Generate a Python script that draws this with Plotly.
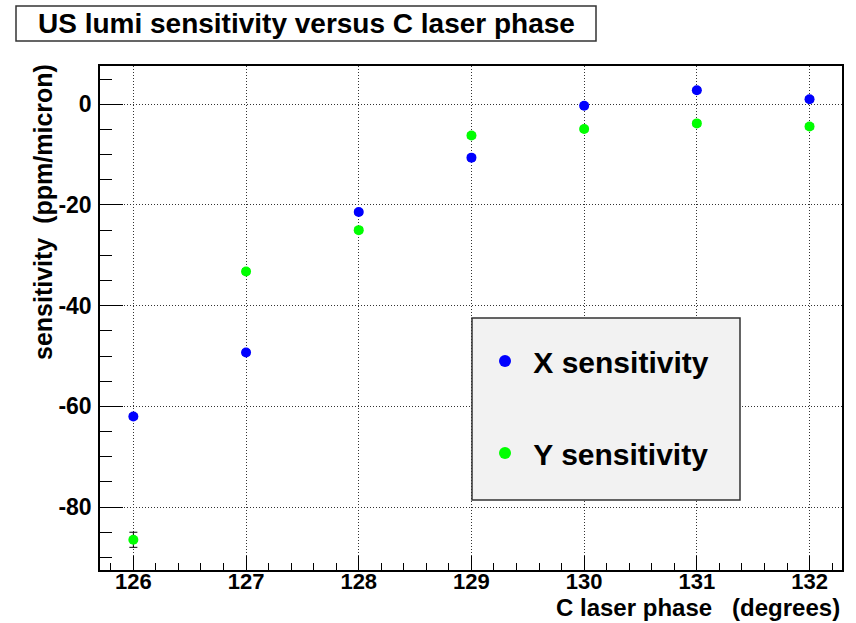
import plotly.graph_objects as go

# Scan points: C laser phase setting (degrees)
phase = [126, 127, 128, 129, 130, 131, 132]

# Luminosity monitor sensitivities (ppm/micron) with their errors
x_sens = [-62.0, -49.3, -21.4, -10.6, -0.3, 2.8, 1.0]
x_err = [0.5, 0.5, 0.5, 0.5, 0.5, 0.5, 0.5]
y_sens = [-86.5, -33.2, -25.0, -6.2, -4.9, -3.8, -4.4]
y_err = [1.5, 0.5, 0.5, 0.5, 0.5, 0.5, 0.5]

series_names = ["X sensitivity", "Y sensitivity"]
title_text = "US lumi sensitivity versus C laser phase"
x_title = "C laser phase   (degrees)"
y_title = "sensitivity  (ppm/micron)"

# Axis ticks, labelled with plain hyphens
x_ticks = [126, 127, 128, 129, 130, 131, 132]
y_ticks = [0, -20, -40, -60, -80]
y_tick_labels = ["0", "-20", "-40", "-60", "-80"]

FONT = "Liberation Sans, Arial, Helvetica, sans-serif"
NB = "\u00a0"

fig = go.Figure()
for name, vals, errs, col in [
    (series_names[0], x_sens, x_err, "#0000ff"),
    (series_names[1], y_sens, y_err, "#00ff00"),
]:
    fig.add_trace(go.Scatter(
        x=phase, y=vals, mode="markers", name=NB + name, legendgroup=name,
        marker=dict(color=col, size=10, line=dict(width=0)),
        error_y=dict(type="data", array=errs, visible=True,
                     color="black", thickness=1, width=4),
    ))

axis_common = dict(
    showline=True, linecolor="black", linewidth=1.5, mirror=True,
    ticks="inside", tickcolor="black", tickwidth=1,
    showgrid=True, gridcolor="#333333", gridwidth=1, griddash="1px,2px",
    zeroline=False,
)

fig.update_xaxes(
    range=[125.704, 132.288], tickmode="array", tickvals=x_ticks,
    ticktext=[str(v) for v in x_ticks], ticklen=14,
    minor=dict(dtick=0.2, tick0=126, ticks="inside", ticklen=7,
               tickcolor="black", tickwidth=1, showgrid=False),
    ticklabelstandoff=-9,
    tickfont=dict(family=FONT, size=22, color="black", weight="bold"),
    **axis_common,
)
fig.update_yaxes(
    range=[-92.5, 7.6], tickmode="array", tickvals=y_ticks,
    ticktext=y_tick_labels, ticklen=23,
    minor=dict(dtick=5, tick0=0, ticks="inside", ticklen=12,
               tickcolor="black", tickwidth=1, showgrid=False),
    ticklabelstandoff=2,
    tickfont=dict(family=FONT, size=23, color="black", weight="bold"),
    **axis_common,
)

# Title box
fig.add_shape(type="rect", xref="paper", yref="paper",
              x0=(16 - 100) / 742, x1=(596 - 100) / 742,
              y0=(570 - 41) / 504, y1=(570 - 6) / 504,
              line=dict(color="#333333", width=1.5), fillcolor="white")
fig.add_annotation(text=title_text, xref="paper", yref="paper",
                   x=(306 - 100) / 742, y=(570 - 23) / 504,
                   xanchor="center", yanchor="middle", showarrow=False,
                   font=dict(family=FONT, size=28, color="black", weight="bold"))

# Axis titles, aligned to the far end of each axis
fig.add_annotation(text=x_title, xref="paper", yref="paper",
                   x=1.0, y=(570 - 607) / 504, xanchor="right", yanchor="middle",
                   showarrow=False,
                   font=dict(family=FONT, size=24, color="black", weight="bold"))
fig.add_annotation(text=y_title, xref="paper", yref="paper",
                   x=(43 - 100) / 742, y=(570 - 62) / 504, xanchor="center", yanchor="top",
                   textangle=-90, showarrow=False,
                   font=dict(family=FONT, size=25, color="black", weight="bold"))

# Legend panel
fig.add_shape(type="rect", xref="paper", yref="paper",
              x0=(472 - 100) / 742, x1=(740 - 100) / 742,
              y0=(570 - 500) / 504, y1=(570 - 318) / 504,
              line=dict(color="#333333", width=1.5), fillcolor="#f2f2f2")

fig.update_layout(
    width=856, height=623,
    margin=dict(l=100, r=14, t=66, b=53),
    paper_bgcolor="white", plot_bgcolor="white",
    showlegend=True,
    legend=dict(
        x=(485 - 100) / 742, y=(570 - 335) / 504, xanchor="left", yanchor="top",
        bgcolor="rgba(0,0,0,0)", borderwidth=0,
        tracegroupgap=50, traceorder="grouped",
        font=dict(family=FONT, size=30, color="black", weight="bold"),
        itemsizing="constant",
    ),
)

fig.write_html("out.html")
